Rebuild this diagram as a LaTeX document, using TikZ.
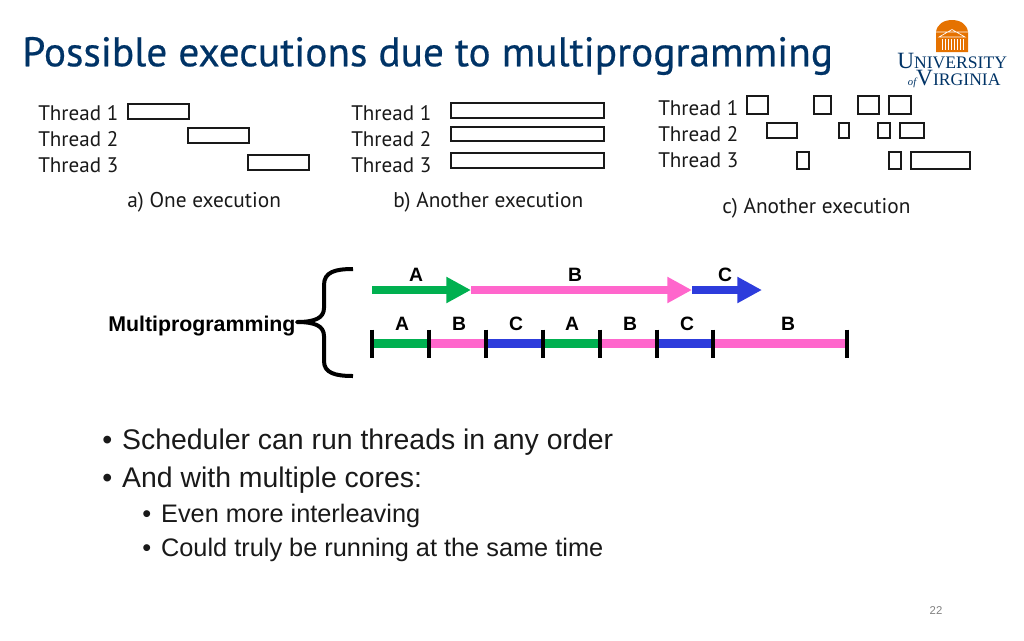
\documentclass[tikz,border=0pt]{standalone}
\usepackage{fontspec}
\setmainfont{PT Sans}
\newfontfamily\titlefont[FakeBold=0.5]{PT Sans}
\newfontfamily\arialfont{Liberation Sans}
\newfontfamily\logofont{Liberation Serif}
\usetikzlibrary{arrows.meta}
\definecolor{TitleBlue}{RGB}{0,51,102}
\definecolor{LogoOrange}{RGB}{229,114,0}
\definecolor{RunGreen}{RGB}{0,176,80}
\definecolor{RunPink}{RGB}{255,102,204}
\definecolor{RunBlue}{RGB}{45,60,220}
\tikzset{Slides/.style={
    x=0.75pt, y=-0.75pt,
    label/.style = {inner sep=0pt, anchor=west, font=\fontsize{15.8}{16}\selectfont, text=black!90},
    caption/.style = {label, font=\fontsize{16}{16}\selectfont},
    slice/.style = {draw=black!90, line width=1.3pt},
    run/.style = {line width=6.5pt},
    runarrow/.style = {run, arrows={-{Triangle[length=18.5pt, width=18.5pt]}}},
    tick/.style = {draw=black, line width=3pt},
    tag/.style = {inner sep=0pt, font=\arialfont\bfseries\fontsize{14.5}{14.5}\selectfont},
    bullet/.style = {inner sep=0pt, anchor=west, font=\arialfont\fontsize{21.3}{21.3}\selectfont, text=black!90},
    subbullet/.style = {bullet, font=\arialfont\fontsize{19}{19}\selectfont}
}}

\begin{document}
\begin{tikzpicture}[Slides]
    \useasboundingbox (0,0) rectangle (1024,640);

    \node [inner sep=0pt, anchor=west, text=TitleBlue, font=\titlefont\fontsize{31}{31}\selectfont] (title) at (22,56) {Possible executions due to multiprogramming};

    % thread labels
    \foreach \col/\x/\yA/\yB/\yC in {a/38/113/139/165, b/351/113/139/165, c/658/108/134/160} {
        \node [label] (\col-1) at (\x,\yA) {Thread 1};
        \node [label] (\col-2) at (\x,\yB) {Thread 2};
        \node [label] (\col-3) at (\x,\yC) {Thread 3};
    }
    \node [caption] (cap-a) at (127,202) {a) One execution};
    \node [caption] (cap-b) at (393,202) {b) Another execution};
    \node [caption] (cap-c) at (722,208) {c) Another execution};

    % time slices
    \foreach \l/\t/\r/\b in {
        128/104/189/119, 188/128/249/143, 248/155/309/170,
        451/103/604/118, 451/127/604/141, 451/153/604/168,
        746.7/95.7/767.7/114, 813.7/95.7/831.3/114, 857.7/95.7/878.7/114, 888.7/95.7/911.3/114,
        766.7/122.7/797.3/138, 839.3/122.7/849.3/138, 877.7/122.7/889.7/138, 899.7/122.7/924.3/138,
        796.7/151.7/809.3/169, 888.7/151.7/900.7/169, 911.3/151.7/970.3/169}
        \draw [slice] (\l,\t) rectangle (\r,\b);

    % arrows on top
    \coordinate (s1) at (372,290);
    \coordinate (s2) at (471,290);
    \coordinate (s3) at (692,290);
    \coordinate (s4) at (762,290);
    \draw [runarrow, RunGreen] (s1) -- (s2);
    \draw [runarrow, RunPink] (s2) -- (s3);
    \draw [runarrow, RunBlue] (s3) -- (s4);
    \node [tag] (top-a) at (416,275) {A};
    \node [tag] (top-b) at (575,275) {B};
    \node [tag] (top-c) at (725,275) {C};

    % interleaved line
    \foreach \i/\x in {0/371.5, 1/428.5, 2/485.5, 3/542.5, 4/599.5, 5/656.5, 6/713, 7/847}
        \coordinate (t\i) at (\x,343.5);
    \foreach \a/\b/\c in {0/1/RunGreen, 1/2/RunPink, 2/3/RunBlue, 3/4/RunGreen, 4/5/RunPink, 5/6/RunBlue, 6/7/RunPink}
        \draw [run, \c] (t\a) -- (t\b);
    \foreach \i in {0,...,7}
        \draw [tick] ([yshift=10.5pt]t\i) -- ([yshift=-10.5pt]t\i);
    \foreach \x/\n/\t in {402/1/A, 459/2/B, 516/3/C, 572/4/A, 630/5/B, 687/6/C, 788/7/B}
        \node [tag] (low-\n) at (\x,324) {\t};

    \node [tag, anchor=west, font=\arialfont\bfseries\fontsize{16}{16}\selectfont] (multi) at (108,326) {Multiprogramming};
    \draw [line width=3pt, line join=round]
        (353,269) .. controls (335,269) and (324,272) .. (324,285)
        -- (324,308) .. controls (324,318) and (315,322) .. (297,322)
        .. controls (315,322) and (324,326) .. (324,336)
        -- (324,361) .. controls (324,373) and (335,376) .. (353,376);

    \node [bullet] (b1) at (102,442) {•\hspace{7.5pt}Scheduler can run threads in any order};
    \node [bullet] (b2) at (102,480) {•\hspace{7.5pt}And with multiple cores:};
    \node [subbullet] (b3) at (142,516) {•\hspace{7.5pt}Even more interleaving};
    \node [subbullet] (b4) at (142,550) {•\hspace{7.5pt}Could truly be running at the same time};

    \node [inner sep=0pt, text=black!50, font=\arialfont\fontsize{8.5}{8.5}\selectfont] (page) at (936,611) {22};

    % logo
    \fill [LogoOrange] (936,32) .. controls (937,24) and (944,20) .. (952,20) .. controls (960,20) and (967,24) .. (968,32) -- (968,52) -- (936,52) -- cycle;
    \draw [white, line width=0.5pt] (936,32) -- (968,32) (939,37) -- (952,29.5) -- (965,37) -- cycle;
    \foreach \x in {942,945,948,951,954,957,960,963}
        \draw [white, line width=0.6pt] (\x,39) -- (\x,50);
    \node [inner sep=0pt, anchor=base west, align=left, text=TitleBlue, font=\logofont] (logo) at (897,85)
        {\fontsize{17.5}{11}\selectfont U\fontsize{13.2}{11}\selectfont NIVERSITY\\[0.6pt]
         \hspace{8pt}{\itshape\fontsize{8}{11}\selectfont of}\fontsize{17.5}{11}\selectfont V\fontsize{13.2}{11}\selectfont IRGINIA};
\end{tikzpicture}
\end{document}
